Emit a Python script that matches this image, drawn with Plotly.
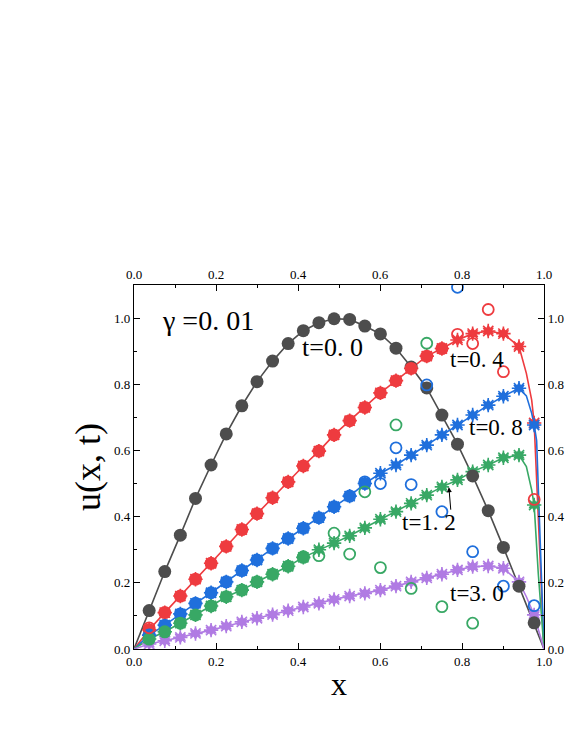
import plotly.graph_objects as go

# ---------------- data ----------------
x_grid = [0.037, 0.075, 0.113, 0.150, 0.188, 0.225, 0.263, 0.300, 0.338, 0.376,
          0.413, 0.451, 0.488, 0.526, 0.563, 0.601, 0.639, 0.676, 0.714, 0.751,
          0.789, 0.826, 0.864, 0.901, 0.939, 0.976]

u_t00 = [0.116, 0.234, 0.344, 0.455, 0.556, 0.650, 0.735, 0.808, 0.870, 0.923,
         0.962, 0.986, 0.998, 0.996, 0.976, 0.952, 0.909, 0.852, 0.789, 0.707,
         0.619, 0.523, 0.418, 0.307, 0.190, 0.079]
u_t04 = [0.058, 0.110, 0.160, 0.211, 0.259, 0.310, 0.361, 0.409, 0.457, 0.505,
         0.553, 0.598, 0.647, 0.690, 0.730, 0.774, 0.811, 0.848, 0.885, 0.908,
         0.934, 0.953, 0.961, 0.953, 0.914, 0.683]
u_t08 = [0.042, 0.072, 0.106, 0.138, 0.170, 0.203, 0.237, 0.269, 0.304, 0.334,
         0.365, 0.397, 0.430, 0.462, 0.500, 0.531, 0.556, 0.586, 0.616, 0.647,
         0.677, 0.707, 0.737, 0.764, 0.788, 0.677]
u_t12 = [0.030, 0.052, 0.078, 0.103, 0.130, 0.158, 0.178, 0.203, 0.226, 0.250,
         0.277, 0.300, 0.320, 0.342, 0.366, 0.392, 0.415, 0.440, 0.465, 0.490,
         0.511, 0.536, 0.556, 0.578, 0.586, 0.435]
u_t30 = [0.015, 0.025, 0.035, 0.047, 0.057, 0.069, 0.082, 0.093, 0.104, 0.116,
         0.127, 0.138, 0.150, 0.160, 0.168, 0.178, 0.190, 0.203, 0.215, 0.226,
         0.239, 0.249, 0.251, 0.244, 0.203, 0.103]

# extra points of the solid curves near the right boundary
tail_x_t00, tail_u_t00 = [], []
tail_x_t04, tail_u_t04 = [0.957, 0.970], [0.833, 0.752]
tail_x_t08, tail_u_t08 = [0.957, 0.970], [0.765, 0.712]
tail_x_t12, tail_u_t12 = [0.957, 0.970], [0.551, 0.480]
tail_x_t30, tail_u_t30 = [0.957], [0.158]
end_x_t04, end_u_t04 = [0.990], [0.300]
end_x_t08, end_u_t08 = [0.982], [0.630]
end_x_t12, end_u_t12 = [0.986], [0.229]

# open-circle (oscillating) results
open_x_t04 = [0.037, 0.789, 0.826, 0.864, 0.901, 0.976]
open_u_t04 = [0.064, 0.951, 0.923, 1.026, 0.838, 0.452]
open_x_t08 = [0.563, 0.601, 0.639, 0.676, 0.714, 0.751, 0.789, 0.826, 0.901, 0.976]
open_u_t08 = [0.505, 0.500, 0.608, 0.497, 0.798, 0.415, 1.093, 0.294, 0.190, 0.131]
open_x_t12 = [0.413, 0.451, 0.488, 0.526, 0.563, 0.601, 0.639, 0.676, 0.714, 0.751, 0.826]
open_u_t12 = [0.279, 0.282, 0.350, 0.287, 0.475, 0.246, 0.677, 0.183, 0.924, 0.128, 0.078]

# number of leading grid points drawn as filled circles
n_circle = {"t00": 26, "t04": 20, "t08": 15, "t12": 11, "t30": 0}

tick_vals = [0.0, 0.2, 0.4, 0.6, 0.8, 1.0]
tick_text = ["0.0", "0.2", "0.4", "0.6", "0.8", "1.0"]

colors = {"t00": "#4d4d4d", "t04": "#ee3b3f", "t08": "#1f6fdc",
          "t12": "#38a865", "t30": "#b07be3"}

series = {
    "t00": (u_t00, tail_x_t00, tail_u_t00, [], []),
    "t04": (u_t04, tail_x_t04, tail_u_t04, end_x_t04, end_u_t04),
    "t08": (u_t08, tail_x_t08, tail_u_t08, end_x_t08, end_u_t08),
    "t12": (u_t12, tail_x_t12, tail_u_t12, end_x_t12, end_u_t12),
    "t30": (u_t30, tail_x_t30, tail_u_t30, [], []),
}
opens = {"t04": (open_x_t04, open_u_t04), "t08": (open_x_t08, open_u_t08),
         "t12": (open_x_t12, open_u_t12)}

fig = go.Figure()

# solid curves
for key, (u, tx, tu, ex, eu) in series.items():
    lx = [0.0] + x_grid[:-1] + tx + [x_grid[-1]] + ex + [1.0]
    lu = [0.0] + u[:-1] + tu + [u[-1]] + eu + [0.0]
    fig.add_trace(go.Scatter(x=lx, y=lu, mode="lines",
                             line=dict(color=colors[key], width=1.6),
                             hoverinfo="skip", showlegend=False))

# star markers
for key, (u, *_rest) in series.items():
    if key == "t00":
        continue
    fig.add_trace(go.Scatter(x=x_grid, y=u, mode="markers",
                             marker=dict(symbol="hexagram", size=10, color=colors[key],
                                         line=dict(width=0)),
                             showlegend=False))
    fig.add_trace(go.Scatter(x=x_grid, y=u, mode="markers",
                             marker=dict(symbol="asterisk-open", size=12, color=colors[key],
                                         line=dict(width=1.6, color=colors[key])),
                             showlegend=False))

# filled circles
for key, (u, *_rest) in series.items():
    n = n_circle[key]
    if n == 0:
        continue
    fig.add_trace(go.Scatter(x=x_grid[:n], y=u[:n], mode="markers",
                             marker=dict(symbol="circle", size=13, color=colors[key],
                                         line=dict(width=0)),
                             showlegend=False))

# open circles
for key, (ox, ou) in opens.items():
    fig.add_trace(go.Scatter(x=ox, y=ou, mode="markers",
                             marker=dict(symbol="circle-open", size=11, color=colors[key],
                                         line=dict(width=1.8, color=colors[key])),
                             showlegend=False))

# dummy trace for the top / right axes
fig.add_trace(go.Scatter(x=[None], y=[None], xaxis="x2", yaxis="y2",
                         mode="markers", showlegend=False, hoverinfo="skip"))

serif = "Liberation Serif, Times New Roman, serif"
axis_common = dict(showline=True, linecolor="black", linewidth=1.2,
                   ticks="inside", ticklen=6, tickwidth=1, tickcolor="black",
                   tickvals=tick_vals, ticktext=tick_text,
                   minor=dict(dtick=0.1, ticks="inside", ticklen=3, tickcolor="black"),
                   showgrid=False, zeroline=False, automargin=False,
                   tickfont=dict(family=serif, size=13, color="black"))

# the page body adds an 8 px offset, so the figure is sized to compensate
fig.update_layout(
    width=567, height=736,
    margin=dict(l=126, r=31, t=277, b=95),
    paper_bgcolor="white", plot_bgcolor="white",
    showlegend=False,
    xaxis=dict(range=[0, 1.0], **axis_common,
               title=dict(text="x", font=dict(family=serif, size=32, color="black"),
                          standoff=4)),
    yaxis=dict(range=[0, 1.1], **axis_common,
               title=dict(text="u(x, t)", font=dict(family=serif, size=36, color="black"),
                          standoff=2)),
    xaxis2=dict(range=[0, 1.0], overlaying="x", side="top", anchor="y2", **axis_common),
    yaxis2=dict(range=[0, 1.1], overlaying="y", side="right", anchor="x2", **axis_common),
)

labels = [
    ("γ =0. 01", 0.063, 0.994, 28),
    ("t=0. 0", 0.405, 0.912, 26),
    ("t=0. 4", 0.766, 0.876, 23),
    ("t=0. 8", 0.812, 0.668, 23),
    ("t=1. 2", 0.649, 0.381, 23),
    ("t=3. 0", 0.766, 0.169, 23),
]
for txt, ax_, ay_, fs in labels:
    fig.add_annotation(x=ax_, y=ay_, text=txt, showarrow=False, xanchor="left",
                       yanchor="middle", font=dict(family=serif, size=fs, color="black"))

fig.add_annotation(x=0.768, y=0.489, text="", showarrow=True, ax=2, ay=24,
                   arrowhead=2, arrowsize=1, arrowwidth=1, arrowcolor="black")

fig.write_html("out.html")
